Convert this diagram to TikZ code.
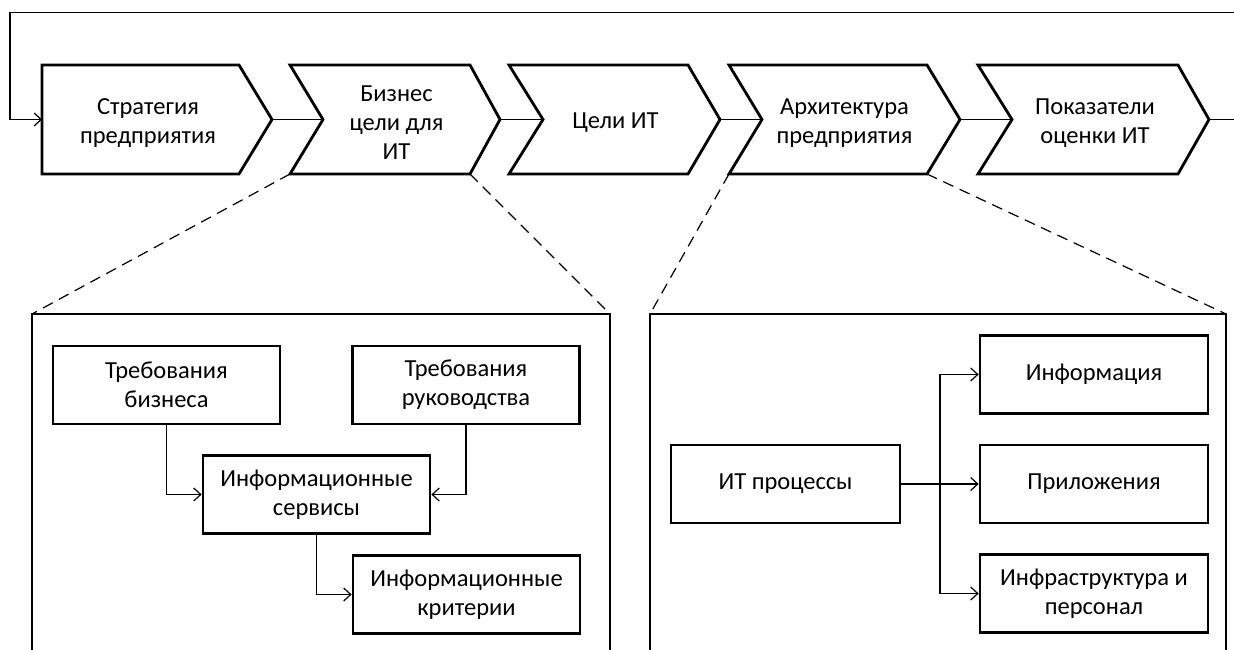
\documentclass[tikz,border=0pt]{standalone}
\usepackage{fontspec}
\setmainfont{Carlito}
\usetikzlibrary{arrows.meta,calc}
\newcommand\diagfont{\fontsize{24.5}{29}\selectfont}
% chevron: name, left x, notch x, top-right x, tip x, text x, text
\newcommand\drawchev[7]{%
  \draw[frame, fill=white] (#2,65) -- (#4,65) -- (#5,119.5) -- (#4,174) -- (#2,174) -- (#3,119.5) -- cycle;
  \coordinate (#1-tip) at (#5,119.5);
  \coordinate (#1-in) at (#3,119.5);
  \coordinate (#1-bl) at (#2,174);
  \coordinate (#1-br) at (#4,174);
  \node[txt] (#1) at (#6,123) {#7};
}
\begin{document}
\begin{tikzpicture}[x=1pt,y=-1pt,
  frame/.style={line width=2.8pt, line join=miter},
  box/.style={draw, line width=2.8pt, minimum width=227pt, minimum height=78pt,
    align=center, inner sep=0pt, font=\diagfont, fill=white},
  txt/.style={align=center, inner sep=0pt, font=\diagfont},
  link/.style={line width=1.2pt},
  arr/.style={link, -{Straight Barb[length=7pt,width=13pt,line width=1.2pt]}},
  zoomline/.style={line width=1.2pt, dash pattern=on 11pt off 7pt}
]
\useasboundingbox (0,0) rectangle (1234,650);

% panel corners
\coordinate (lp-tl) at (32,314);
\coordinate (lp-tr) at (610,314);
\coordinate (rp-tl) at (650,314);
\coordinate (rp-tr) at (1226,314);

% feedback loop and outgoing line
\coordinate (loop-r) at (1240,12.5);
\coordinate (loop-l) at (10,12.5);
\coordinate (exit) at (1240,119.5);

% links between chevrons (drawn under the shapes)
\draw[link] (272,119.5) -- (323,119.5);
\draw[link] (500,119.5) -- (543,119.5);
\draw[link] (720,119.5) -- (762,119.5);
\draw[link] (960,119.5) -- (1012,119.5);

% value chain
\drawchev{c1}{42}{42}{239}{272}{148}{Стратегия\\предприятия}
\drawchev{c2}{290}{323}{470}{500}{396.5}{Бизнес\\цели для\\ИТ}
\drawchev{c3}{509}{543}{688}{720}{615.5}{Цели ИТ}
\drawchev{c4}{729}{762}{927}{960}{844.5}{Архитектура\\предприятия}
\drawchev{c5}{978}{1012}{1178}{1209}{1095}{Показатели\\оценки ИТ}

\draw[link] (c5-tip) -- (exit);
\draw[arr] (loop-r) -- (loop-l) |- (c1-in);

% zoom-in guides
\draw[zoomline] (c2-bl) -- (lp-tl);
\draw[zoomline] (c2-br) -- (lp-tr);
\draw[zoomline] (c4-bl) -- (rp-tl);
\draw[zoomline] (c4-br) -- (rp-tr);

% detail panels
\draw[frame] (32,660) -- (lp-tl) -- (lp-tr) -- (610,660);
\draw[frame] (650,660) -- (rp-tl) -- (rp-tr) -- (1226,660);

% left panel: business goals for IT
\node[box] (req-bus) at (166.5,385) {Требования\\бизнеса};
\node[box] (req-mgt) at (466,385) {Требования\\руководства};
\node[box] (svc) at (316.5,494.5) {Информационные\\сервисы};
\node[box] (crit) at (466.5,594.5) {Информационные\\критерии};

\draw[arr] (req-bus.south) |- (svc.west);
\draw[arr] (req-mgt.south) |- (svc.east);
\draw[arr] (svc.south) |- (crit.west);

% right panel: enterprise architecture
\node[box, minimum width=229pt] (itp) at (785.5,484) {ИТ процессы};
\node[box, minimum width=228pt] (info) at (1094,374.5) {Информация};
\node[box, minimum width=228pt] (apps) at (1094,484) {Приложения};
\node[box, minimum width=228pt] (infra) at (1094,593.5) {Инфраструктура и\\персонал};

\coordinate (hub) at (940,484);
\draw[link] (itp.east) -- (hub);
\draw[arr] (hub) |- (info.west);
\draw[arr] (hub) -- (apps.west);
\draw[arr] (hub) |- (infra.west);
\end{tikzpicture}
\end{document}
